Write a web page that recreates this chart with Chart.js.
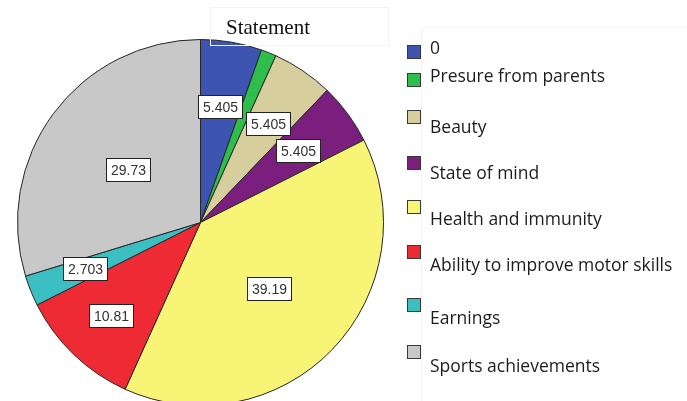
<!DOCTYPE html>
<html>
<head>
<meta charset="utf-8">
<script src="https://cdn.jsdelivr.net/npm/chart.js@4"></script>
<style>
  html, body { margin: 0; padding: 0; background: #fff; overflow: hidden; }
  #wrap { position: relative; width: 687px; height: 401px; }
  #pie { position: absolute; left: 0; top: 0; }
  #titleBox {
    position: absolute; left: 210px; top: 7px; width: 179px; height: 39px;
    border: 1px solid #f3f3f3; box-sizing: border-box;
    font: 21px "Liberation Serif", "Times New Roman", serif; color: #111;
    line-height: 39px; padding-left: 15px;
  }
  #legendFrame {
    position: absolute; left: 421px; top: 27px; width: 270px; height: 380px;
    border-left: 1px solid #f4f4f4; border-top: 1px solid #f4f4f4;
  }
  .sw { position: absolute; left: 407px; width: 14px; height: 14px; border: 1px solid #3a3a3a; box-sizing: border-box; }
  .lt { position: absolute; left: 430px; height: 20px; line-height: 20px; white-space: nowrap;
        font: 17.5px "Open Sans", "Noto Sans", sans-serif; color: #1c1c1c; }
</style>
</head>
<body>
<div id="wrap">
  <canvas id="pie" width="687" height="410"></canvas>
  <div id="titleBox">Statement</div>
  <div id="legendFrame"></div>
  <div id="legend"></div>
</div>
<script>
/*data*/
const categories = ['0', 'Presure from parents', 'Beauty', 'State of mind', 'Health and immunity',
                    'Ability to improve motor skills', 'Earnings', 'Sports achievements'];
const percents = [5.405, 1.351, 5.405, 5.405, 39.19, 10.81, 2.703, 29.73];
const sliceColors = ['#3d55b0', '#2dbe4b', '#d6ce9c', '#7a1f7e', '#f8f476', '#ee2b35', '#3cbfc2', '#c8c8c8'];

/*legend (html, spaced like the original)*/
const swatchTop = [45, 73, 110, 156, 200, 245, 298, 345];
const textMid = [47, 75, 126, 172, 218, 264, 317, 365];
const legend = document.getElementById('legend');
categories.forEach(function(name, i) {
    const sw = document.createElement('div');
    sw.className = 'sw';
    sw.style.top = swatchTop[i] + 'px';
    sw.style.background = sliceColors[i];
    legend.appendChild(sw);
    const t = document.createElement('div');
    t.className = 'lt';
    t.style.top = (textMid[i] - 12) + 'px';
    t.textContent = name;
    legend.appendChild(t);
});

/*boxed value labels, placed on each slice's middle angle*/
const labelRadius = [0.645, 0.65, 0.656, 0.664, 0.52, 0.705, 0.678, 0.49];

const valueLabels = {
    id: 'valueLabels',
    afterDatasetsDraw(chart) {
        const ctx = chart.ctx;
        const meta = chart.getDatasetMeta(0);
        ctx.save();
        ctx.font = '14px "Liberation Sans", Arial, sans-serif';
        ctx.textAlign = 'center';
        ctx.textBaseline = 'middle';
        meta.data.forEach(function(arc, i) {
            const v = chart.data.datasets[0].data[i];
            if (v < 2) return; // too thin, the original hides this one
            const p = arc.getProps(['x', 'y', 'startAngle', 'endAngle', 'outerRadius'], true);
            const mid = (p.startAngle + p.endAngle) / 2;
            const r = p.outerRadius * labelRadius[i];
            const x = p.x + Math.cos(mid) * r;
            const y = p.y + Math.sin(mid) * r;
            const txt = String(Number(v.toPrecision(4)));
            const w = Math.round(ctx.measureText(txt).width + 9), h = 23;
            const bx = Math.round(x - w / 2) + 0.5, by = Math.round(y - h / 2) + 0.5;
            ctx.fillStyle = '#fff';
            ctx.fillRect(bx, by, w, h);
            ctx.strokeStyle = '#222';
            ctx.lineWidth = 1;
            ctx.strokeRect(bx, by, w, h);
            ctx.fillStyle = '#333';
            ctx.fillText(txt, bx + w / 2, by + h / 2 + 1);
        });
        ctx.restore();
    }
};

const ctx = document.getElementById('pie').getContext('2d');

const chart = new Chart(ctx, {
    type: 'pie',
    data: {
        labels: categories,
        datasets: [{
            data: percents,
            backgroundColor: sliceColors,
            borderColor: '#262626',
            borderWidth: 1
        }]
    },
    options: {
        responsive: false,
        animation: false,
        devicePixelRatio: 1,
        layout: { padding: { left: 17, top: 39, right: 303, bottom: 4 } },
        plugins: {
            legend: { display: false },
            tooltip: { enabled: false }
        }
    },
    plugins: [valueLabels]
});
</script>
</body>
</html>
